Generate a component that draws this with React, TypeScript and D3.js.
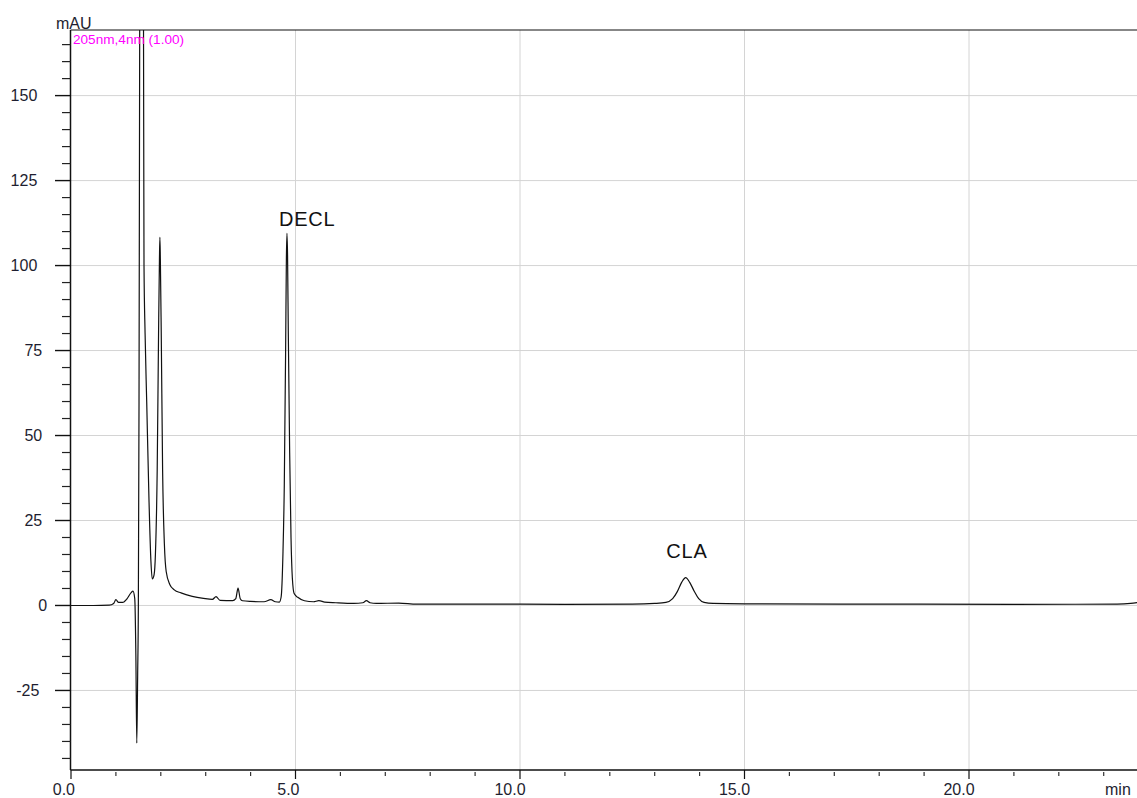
import React from "react";
import * as d3 from "d3";

// Chromatogram trace (retention time in min, absorbance in mAU)
const TIME = [
  0, 0.5, 0.85, 0.95, 1.0, 1.06, 1.15, 1.25, 1.34, 1.38, 1.42, 1.445, 1.465, 1.485, 1.5, 1.515, 1.53,
  1.57, 1.615, 1.626, 1.65, 1.686, 1.737, 1.78, 1.81, 1.85, 1.88, 1.92, 1.95, 1.97, 1.98, 1.99, 2.01, 2.04, 2.08,
  2.12, 2.2, 2.3, 2.45, 2.7, 2.95, 3.15, 3.23, 3.32, 3.6, 3.67, 3.72, 3.77, 3.82, 4.0, 4.3, 4.45, 4.55,
  4.64, 4.68, 4.72, 4.75, 4.78, 4.797, 4.81, 4.823, 4.84, 4.87, 4.9, 4.93, 4.97, 5.05, 5.2, 5.4, 5.52, 5.65, 5.9,
  6.3, 6.5, 6.58, 6.66, 6.8, 7.3, 7.7, 9.0, 11.0, 12.5, 13.0, 13.25, 13.4, 13.5, 13.6, 13.69, 13.78,
  13.88, 13.98, 14.1, 14.3, 15.0, 18.0, 21.0, 23.3, 23.6, 23.77,
];
const ABS = [
  0, 0, 0.1, 0.6, 1.7, 0.9, 0.9, 2.0, 3.8, 4.2, 2.0, -15, -40.5, -20, 0, 60, 170,
  350, 170, 100, 80, 60, 31, 13, 7.8, 9, 15, 40, 80, 102, 108.3, 102, 80, 40, 18,
  10, 6.2, 4.6, 3.7, 2.7, 2.1, 1.8, 2.6, 1.5, 1.4, 2.0, 5.1, 2.0, 1.4, 1.2, 1.1, 1.7, 1.1,
  1.0, 2.5, 15, 35, 75, 102, 109.5, 103, 80, 45, 20, 8, 3.5, 2.4, 1.4, 1.1, 1.4, 1.0, 0.8,
  0.6, 0.8, 1.4, 0.8, 0.6, 0.7, 0.4, 0.4, 0.35, 0.4, 0.6, 0.9, 2.0, 4.0, 6.8, 8.2, 6.8,
  4.2, 2.0, 0.9, 0.6, 0.5, 0.4, 0.35, 0.4, 0.6, 0.9,
];

const Y_TICKS = [-25, 0, 25, 50, 75, 100, 125, 150];
const Y_TICK_LABELS = ["-25", "0", "25", "50", "75", "100", "125", "150"];
const Y_MINOR_STEP = 5;
const X_TICKS = [0, 5, 10, 15, 20];
const X_TICK_LABELS = ["0.0", "5.0", "10.0", "15.0", "20.0"];
const X_MINOR_STEP = 1;

const PEAK_NAMES = ["DECL", "CLA"];
const PEAK_LABEL_TIME = [5.26, 13.72];
const PEAK_LABEL_VALUE = [111.6, 14.0];

const Y_UNIT = "mAU";
const X_UNIT = "min";
const CHANNEL = "205nm,4nm (1.00)";

const FONT = "'Liberation Sans', Arial, Helvetica, sans-serif";

// approximate Arial widths (em)
function textWidth(s: string, size: number) {
  let w = 0;
  for (const c of s) {
    if (c >= "0" && c <= "9") w += 0.556;
    else if (c === "-") w += 0.333;
    else if (c === ".") w += 0.278;
    else w += 0.6;
  }
  return w * size;
}

export default function App() {
  const W = 1137;
  const H = 798;
  const left = 71;
  const top = 30;
  const bottom = 770;
  const right = 1138;

  const x = d3.scaleLinear().domain([0, (right - left) / 44.9]).range([left, right]);
  const y = d3.scaleLinear().domain([-48.4, 169.3]).range([bottom, top]);

  const pts: [number, number][] = TIME.map((t, i) => [t, ABS[i]]);
  const line = d3
    .line<[number, number]>()
    .x((d) => x(d[0]))
    .y((d) => y(d[1]))
    .curve(d3.curveMonotoneX);

  const yMinor = d3.range(-45, 170, Y_MINOR_STEP).filter((v) => !Y_TICKS.includes(v));
  const xMinor = d3.range(1, 24, X_MINOR_STEP).filter((v) => !X_TICKS.includes(v));
  const tickFs = 16;

  return (
    <svg
      width={W}
      height={H}
      style={{ position: "absolute", left: 0, top: 0, display: "block", background: "#fff" }}
      fontFamily={FONT}
    >
      <defs>
        <clipPath id="plotClip">
          <rect x={left} y={top} width={right - left} height={bottom - top} />
        </clipPath>
      </defs>
      <rect x={0} y={0} width={W} height={H} fill="#fff" />

      {/* grid */}
      {Y_TICKS.map((v) => (
        <line key={"gy" + v} x1={left} x2={W} y1={y(v)} y2={y(v)} stroke="#d4d4d4" strokeWidth={1} />
      ))}
      {X_TICKS.filter((v) => v > 0).map((v) => (
        <line key={"gx" + v} x1={x(v)} x2={x(v)} y1={top} y2={bottom} stroke="#d4d4d4" strokeWidth={1} />
      ))}

      {/* trace */}
      <path
        d={line(pts) || ""}
        fill="none"
        stroke="#111"
        strokeWidth={1.2}
        strokeLinejoin="round"
        clipPath="url(#plotClip)"
      />

      {/* frame */}
      <line x1={left - 0.5} x2={W} y1={top} y2={top} stroke="#111" strokeWidth={1.2} />
      <line x1={left - 0.5} x2={left - 0.5} y1={top} y2={bottom} stroke="#111" strokeWidth={1.5} />
      <line x1={left - 0.5} x2={W} y1={bottom} y2={bottom} stroke="#111" strokeWidth={1.5} />

      {/* y ticks */}
      {yMinor.map((v) => (
        <line key={"ym" + v} x1={62} x2={left - 0.5} y1={y(v)} y2={y(v)} stroke="#222" strokeWidth={1.2} />
      ))}
      {Y_TICKS.map((v, i) => {
        const w = textWidth(Y_TICK_LABELS[i], tickFs);
        return (
          <g key={"yt" + v}>
            <line x1={55} x2={left - 0.5} y1={y(v)} y2={y(v)} stroke="#111" strokeWidth={1.4} />
            <text
              x={52 - 0.55 * w}
              y={y(v) + 5.5}
              textAnchor="end"
              fontSize={tickFs}
              fill="#1e1e30"
            >
              {Y_TICK_LABELS[i]}
            </text>
          </g>
        );
      })}

      {/* x ticks */}
      {xMinor.map((v) => (
        <line key={"xm" + v} x1={x(v)} x2={x(v)} y1={772} y2={776} stroke="#333" strokeWidth={1.2} />
      ))}
      {X_TICKS.map((v, i) => {
        const w = textWidth(X_TICK_LABELS[i], tickFs);
        return (
          <g key={"xt" + v}>
            <line x1={x(v)} x2={x(v)} y1={bottom} y2={779} stroke="#111" strokeWidth={1.2} />
            <text x={x(v) - 0.82 * w} y={795} textAnchor="start" fontSize={tickFs} fill="#1e1e30">
              {X_TICK_LABELS[i]}
            </text>
          </g>
        );
      })}

      {/* units */}
      <text x={56} y={29} fontSize={16} fill="#1e1e30">
        {Y_UNIT}
      </text>
      <text x={1105} y={795} fontSize={16} fill="#1e1e30">
        {X_UNIT}
      </text>
      <text x={73} y={43.5} fontSize={13.6} fill="#ff00ff">
        {CHANNEL}
      </text>

      {/* peak labels */}
      {PEAK_NAMES.map((n, i) => (
        <text
          key={n}
          x={x(PEAK_LABEL_TIME[i])}
          y={y(PEAK_LABEL_VALUE[i])}
          textAnchor="middle"
          fontSize={20}
          letterSpacing={0.8}
          fill="#111"
        >
          {n}
        </text>
      ))}
    </svg>
  );
}
